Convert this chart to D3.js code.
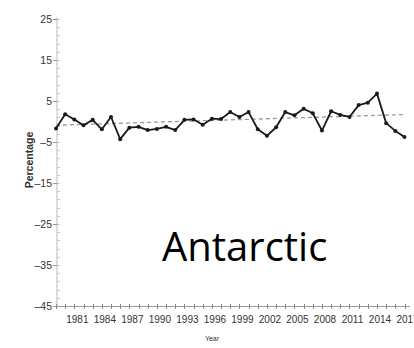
<!DOCTYPE html>
<html>
<head>
<meta charset="utf-8">
<script src="https://cdn.jsdelivr.net/npm/d3@7"></script>
<style>
  html, body { margin: 0; padding: 0; background: #fff; }
  svg { display: block; }
</style>
</head>
<body>
<svg id="chart" width="414" height="348"></svg>
<script>
// ---- data ----
const years = d3.range(1979, 2018);
const values = [
  -1.7, 1.75, 0.5, -0.9, 0.4, -1.9, 1.1, -4.3, -1.5, -1.3,
  -2.1, -1.8, -1.3, -2.1, 0.4, 0.5, -0.8, 0.7, 0.6, 2.3,
  1.1, 2.3, -1.9, -3.5, -1.4, 2.3, 1.5, 3.1, 2.0, -2.2,
  2.5, 1.6, 1.1, 4.0, 4.6, 6.8, -0.4, -2.3, -3.8
];
const trendYears = [1979, 2017];
const trendValues = [-0.9, 1.7];
const yTickLabels = [25, 15, 5, -5, -15, -25, -35, -45];
const xTickLabels = [1981, 1984, 1987, 1990, 1993, 1996, 1999, 2002, 2005, 2008, 2011, 2014, 2017];
const regionLabel = "Antarctic";
const yTitle = "Percentage";
const xTitle = "Year";

// ---- layout ----
const svg = d3.select("#chart");
const axisX = 57, axisY = 306;
const x = d3.scaleLinear().domain([1979, 2017]).range([56, 404.5]);
const y = d3.scaleLinear().domain([-45, 25]).range([306, 19]);

// y axis line
svg.append("line")
  .attr("x1", axisX).attr("x2", axisX)
  .attr("y1", y(25) - 2).attr("y2", axisY)
  .attr("stroke", "#bdbdbd").attr("stroke-width", 1);

// y minor ticks (every 2)
svg.append("g").selectAll("line")
  .data(d3.range(-45, 26, 2))
  .join("line")
  .attr("x1", axisX).attr("x2", axisX + 3)
  .attr("y1", d => Math.round(y(d)) + 0.5).attr("y2", d => Math.round(y(d)) + 0.5)
  .attr("stroke", "#c8c8c8").attr("stroke-width", 1);

// y major ticks + labels
const yg = svg.append("g");
yg.selectAll("line")
  .data(yTickLabels)
  .join("line")
  .attr("x1", axisX - 4).attr("x2", axisX)
  .attr("y1", d => Math.round(y(d)) + 0.5).attr("y2", d => Math.round(y(d)) + 0.5)
  .attr("stroke", "#9a9a9a").attr("stroke-width", 1);
yg.selectAll("text")
  .data(yTickLabels)
  .join("text")
  .attr("x", axisX - 5)
  .attr("y", d => y(d))
  .attr("dy", "0.35em")
  .attr("text-anchor", "end")
  .attr("font-family", "Liberation Sans Narrow, Liberation Sans, Arial, sans-serif")
  .attr("font-size", 10.5)
  .attr("fill", "#333")
  .text(d => d < 0 ? "\u2013" + Math.abs(d) : d);

// x axis line
svg.append("line")
  .attr("x1", axisX).attr("x2", 410)
  .attr("y1", axisY + 0.5).attr("y2", axisY + 0.5)
  .attr("stroke", "#9a9a9a").attr("stroke-width", 1);

// x ticks every year
svg.append("g").selectAll("line")
  .data(years)
  .join("line")
  .attr("x1", d => Math.round(x(d)) + 0.5).attr("x2", d => Math.round(x(d)) + 0.5)
  .attr("y1", axisY - 2).attr("y2", axisY + 3)
  .attr("stroke", "#8a8a8a").attr("stroke-width", 1);

// x labels
svg.append("g").selectAll("text")
  .data(xTickLabels)
  .join("text")
  .attr("x", d => x(d) + 3)
  .attr("y", 323)
  .attr("text-anchor", "middle")
  .attr("font-family", "Liberation Sans Narrow, Liberation Sans, Arial, sans-serif")
  .attr("font-size", 10)
  .attr("fill", "#333")
  .text(d => d);

// trend line (dashed)
svg.append("line")
  .attr("x1", x(trendYears[0])).attr("y1", y(trendValues[0]))
  .attr("x2", x(trendYears[1])).attr("y2", y(trendValues[1]))
  .attr("stroke", "#9a9a9a").attr("stroke-width", 1.3)
  .attr("stroke-dasharray", "4,3");

// data line
const line = d3.line().x((d, i) => x(years[i])).y(d => y(d));
svg.append("path")
  .datum(values)
  .attr("d", line)
  .attr("fill", "none")
  .attr("stroke", "#1a1a1a")
  .attr("stroke-width", 1.8)
  .attr("stroke-linejoin", "round");

svg.append("g").selectAll("circle")
  .data(values)
  .join("circle")
  .attr("cx", (d, i) => x(years[i]))
  .attr("cy", d => y(d))
  .attr("r", 2)
  .attr("fill", "#1a1a1a");

// axis titles
svg.append("text")
  .attr("transform", `translate(33,${160}) rotate(-90)`)
  .attr("text-anchor", "middle")
  .attr("font-family", "Liberation Sans Narrow, Liberation Sans, Arial, sans-serif")
  .attr("font-weight", "bold")
  .attr("font-size", 10.5)
  .attr("fill", "#333")
  .text(yTitle);

svg.append("text")
  .attr("x", 212).attr("y", 341)
  .attr("text-anchor", "middle")
  .attr("font-family", "Liberation Sans, Arial, sans-serif")
  .attr("font-size", 7)
  .attr("fill", "#333")
  .text(xTitle);

// region label
svg.append("text")
  .attr("x", 162).attr("y", 261)
  .attr("font-family", "Open Sans, Liberation Sans, sans-serif")
  .attr("font-size", 40)
  .attr("fill", "#000")
  .text(regionLabel);
</script>
</body>
</html>
